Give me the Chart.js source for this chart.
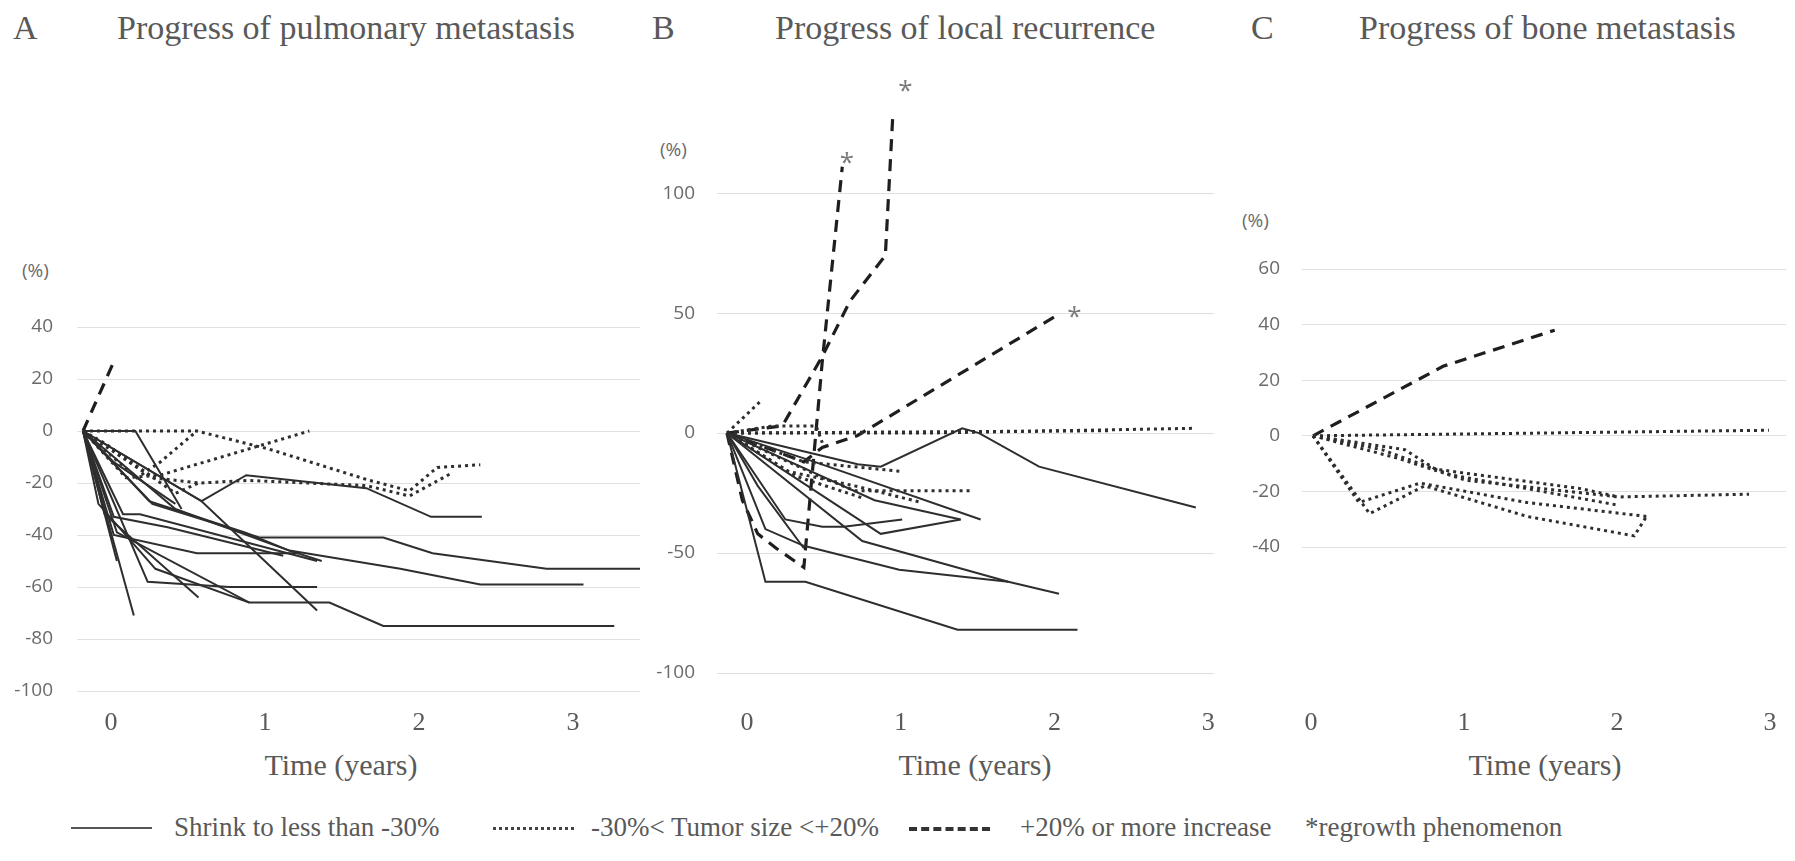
<!DOCTYPE html>
<html>
<head>
<meta charset="utf-8">
<script src="https://cdn.jsdelivr.net/npm/chart.js@4.4.1/dist/chart.umd.min.js"></script>
<style>
  body { margin: 0; width: 1795px; height: 861px; background: #fff; position: relative; overflow: hidden; color: #595959; font-family: "Liberation Serif", serif; }
  .t { position: absolute; white-space: nowrap; line-height: 1; }
  .ttl { font-size: 34px; top: 11px; }
  .pct { font-family: "Open Sans", sans-serif; font-size: 19px; color: #6a6a6a; }
  .xt { font-size: 30px; top: 750px; transform: translateX(-50%); }
  .lg { font-size: 27px; top: 814px; }
  .sw { position: absolute; top: 827px; width: 81px; height: 0; }
  canvas { position: absolute; }
</style>
</head>
<body>

<div class="t ttl" style="left:13px">A</div>
<div class="t ttl" style="left:117px">Progress of pulmonary metastasis</div>
<div class="t ttl" style="left:652px">B</div>
<div class="t ttl" style="left:775px">Progress of local recurrence</div>
<div class="t ttl" style="left:1251px">C</div>
<div class="t ttl" style="left:1359px">Progress of bone metastasis</div>

<div class="t pct" style="left:22px;top:261px">(%)</div>
<div class="t pct" style="left:660px;top:140px">(%)</div>
<div class="t pct" style="left:1242px;top:211px">(%)</div>

<canvas id="chartA" width="653" height="454" style="left:7px;top:287px"></canvas>
<canvas id="chartB" width="587" height="695" style="left:647px;top:38px"></canvas>
<canvas id="chartC" width="563" height="512" style="left:1232px;top:229px"></canvas>

<div class="t xt" style="left:341px">Time (years)</div>
<div class="t xt" style="left:975px">Time (years)</div>
<div class="t xt" style="left:1545px">Time (years)</div>

<div class="sw" style="left:71px;border-top:2px solid #555"></div>
<div class="t lg" style="left:174px">Shrink to less than -30%</div>
<div class="sw" style="left:493px;border-top:3px dotted #444"></div>
<div class="t lg" style="left:591px">-30%&lt; Tumor size &lt;+20%</div>
<div class="sw" style="left:909px;border-top:4px dashed #333"></div>
<div class="t lg" style="left:1020px">+20% or more increase</div>
<div class="t lg" style="left:1305px">*regrowth phenomenon</div>

<script>
// every series: [time in years, change in tumour size %]
var yearTicks = [0, 1, 2, 3];

// A - pulmonary metastasis
var pulmonaryTicks = [-100, -80, -60, -40, -20, 0, 20, 40];
var pulmonarySolid = [
  [[0,0],[0.33,-71]],
  [[0,0],[0.22,-50]],
  [[0,0],[0.34,0],[0.64,-30]],
  [[0,0],[0.77,-27],[1.06,-17],[1.84,-22],[2.26,-33],[2.59,-33]],
  [[0,0],[0.77,-27],[1.52,-69]],
  [[0,0],[0.42,-58],[0.95,-60],[1.52,-60]],
  [[0,0],[0.14,-32],[0.75,-64]],
  [[0,0],[0.22,-39],[1.08,-66],[1.6,-66],[1.95,-75],[3.45,-75]],
  [[0,0],[0.45,-28],[1.15,-41],[1.95,-41],[2.27,-47],[3.01,-53],[3.62,-53]],
  [[0,0],[0.43,-27],[1.05,-39],[1.34,-46],[2.06,-53],[2.58,-59],[3.25,-59]],
  [[0,0],[0.2,-40],[0.74,-47],[1.4,-47]],
  [[0,0],[0.26,-32],[0.37,-32],[1.52,-50]],
  [[0,0],[0.2,-33],[0.55,-37],[1.3,-48]],
  [[0,0],[0.1,-28],[0.47,-53],[1.08,-66]],
  [[0,0],[0.2,-12],[0.6,-28]],
  [[0,0],[0.6,-30],[1.34,-46],[1.55,-50]]
];
var pulmonaryDotted = [
  [[0,0],[0.74,0],[1.21,-7],[1.86,-19],[2.12,-23],[2.3,-14],[2.58,-13]],
  [[0,0],[0.45,-18],[0.76,-20],[1.07,-19],[1.84,-21],[2.12,-25],[2.4,-16]],
  [[0,0],[0.28,-18],[0.5,-17],[1.47,0]],
  [[0,0],[0.35,-18],[0.5,-12],[0.74,0]],
  [[0,0],[0.15,-5],[0.6,-24],[0.75,-20]]
];
var pulmonaryDashed = [
  [[0,0],[0.21,28]]
];

// B - local recurrence
var localTicks = [-100, -50, 0, 50, 100];
var localSolid = [
  [[0,0],[0.25,-62],[0.51,-62],[1.5,-82],[2.28,-82]],
  [[0,0],[0.88,-45],[1.83,-62],[2.16,-67]],
  [[0,0],[0.25,-40],[0.5,-47],[1.12,-57],[1.83,-62]],
  [[0,0],[0.38,-36],[0.62,-39],[0.76,-39],[1.14,-36]],
  [[0,0],[1.0,-42],[1.52,-36]],
  [[0,0],[0.96,-28],[1.52,-36]],
  [[0,0],[0.57,-12],[1.65,-36]],
  [[0,0],[0.85,-13],[1.0,-14],[1.53,2],[1.64,0],[2.03,-14],[3.05,-31]],
  [[0,0],[0.2,-22],[0.5,-48]]
];
var localDotted = [
  [[0,0],[2.5,1]],
  [[0,0],[1.3,0],[3.05,2]],
  [[0,0],[0.23,14]],
  [[0,0],[0.3,3],[0.58,3],[0.62,-4]],
  [[0,0],[0.5,-12],[1.14,-16]],
  [[0,0],[0.6,-18],[0.83,-24],[1.59,-24]],
  [[0,0],[0.4,-16],[0.83,-22],[1.27,-29]],
  [[0,0],[0.45,-18],[0.88,-27]]
];
var localDashed = [
  [[0,0],[0.1,-28],[0.2,-42],[0.32,-48],[0.5,-56],[0.62,30],[0.75,111]],
  [[0,0],[0.36,3],[0.62,32],[0.8,55],[1.03,74],[1.08,134]],
  [[0,0],[0.5,-12],[0.62,-6],[0.85,-1],[2.17,50]]
];
var localRegrowth = [[0.78,115],[1.16,145],[2.26,51]];

// C - bone metastasis
var boneTicks = [-40, -20, 0, 20, 40, 60];
var boneDotted = [
  [[0,0],[1.5,1],[2.98,2]],
  [[0,0],[0.37,-28],[0.73,-18],[1.4,-29],[2.1,-36],[2.18,-29]],
  [[0,0],[0.3,-24],[0.7,-17],[1.4,-24],[2.18,-29]],
  [[0,0],[0.6,-5],[0.8,-12],[1.75,-19],[2.0,-22]],
  [[0,0],[0.55,-8],[1.0,-16],[2.0,-22],[2.85,-21]],
  [[0,0],[0.45,-5],[0.9,-14],[2.0,-25]]
];
var boneDashed = [
  [[0,0],[0.85,25],[1.58,38]]
];

var solidStyle = { borderColor: "#2e2e2e", borderWidth: 2 };
var dottedStyle = { borderColor: "#2e2e2e", borderWidth: 3, borderDash: [3, 4] };
var dashedStyle = { borderColor: "#1e1e1e", borderWidth: 3.2, borderDash: [12, 8] };

function toSets(series, style) {
  return series.map(function(pts) {
    return Object.assign({
      data: pts.map(function(p) { return { x: p[0], y: p[1] }; }),
      showLine: true,
      pointRadius: 0,
      tension: 0,
      fill: false
    }, style);
  });
}

// the "*" marks next to the regrowing lesions
var regrowthMarks = {
  id: "regrowthMarks",
  afterDatasetsDraw: function(chart, args, opts) {
    if (!opts.points) return;
    var ctx = chart.ctx, sx = chart.scales.x, sy = chart.scales.y;
    ctx.save();
    ctx.font = '26px "Open Sans"';
    ctx.fillStyle = "#7a7a7a";
    ctx.textAlign = "center";
    ctx.textBaseline = "alphabetic";
    opts.points.forEach(function(p) {
      ctx.fillText("*", sx.getPixelForValue(p[0]), sy.getPixelForValue(p[1]) + 14);
    });
    ctx.restore();
  }
};

function makeChart(id, sets, ax, marks) {
  return new Chart(document.getElementById(id), {
    type: "scatter",
    data: { datasets: sets },
    plugins: [regrowthMarks],
    options: {
      responsive: false,
      animation: false,
      layout: { padding: { top: 40, right: ax.padRight, left: 0, bottom: 0 } },
      plugins: {
        legend: { display: false },
        tooltip: { enabled: false },
        regrowthMarks: { points: marks }
      },
      scales: {
        x: {
          type: "linear",
          min: ax.xMin, max: ax.xMax,
          grid: { display: false },
          border: { display: false },
          afterBuildTicks: function(s) { s.ticks = yearTicks.map(function(v) { return { value: v }; }); },
          afterFit: function(s) { s.height = ax.xH; },
          ticks: {
            autoSkip: false, maxRotation: 0,
            padding: 0, labelOffset: ax.labelOffset,
            color: "#595959",
            // tall line box pushes the year labels down to the common baseline
            font: { family: "Liberation Serif", size: 26, lineHeight: ax.xLine }
          }
        },
        y: {
          min: ax.yMin, max: ax.yMax,
          grid: { color: "#e0e0e0", lineWidth: 1, drawTicks: false },
          border: { display: false },
          afterBuildTicks: function(s) { s.ticks = ax.yTicks.map(function(v) { return { value: v }; }); },
          afterFit: function(s) { s.width = 70; },
          ticks: {
            padding: ax.yPad,
            color: "#6a6a6a",
            font: { family: "Open Sans", size: 19 }
          }
        }
      }
    }
  });
}

makeChart("chartA",
  toSets(pulmonarySolid, solidStyle).concat(toSets(pulmonaryDotted, dottedStyle), toSets(pulmonaryDashed, dashedStyle)),
  { xMin: -0.039, xMax: 3.617, yMin: -100, yMax: 40, yTicks: pulmonaryTicks,
    xH: 50, xLine: 1.85, labelOffset: 28, yPad: 24, padRight: 20 });

makeChart("chartB",
  toSets(localSolid, solidStyle).concat(toSets(localDotted, dottedStyle), toSets(localDashed, dashedStyle)),
  { xMin: -0.065, xMax: 3.168, yMin: -100, yMax: 148, yTicks: localTicks,
    xH: 60, xLine: 3.23, labelOffset: 20, yPad: 22, padRight: 20 },
  localRegrowth);

makeChart("chartC",
  toSets(boneDotted, dottedStyle).concat(toSets(boneDashed, dashedStyle)),
  { xMin: -0.072, xMax: 3.092, yMin: -40, yMax: 60, yTicks: boneTicks,
    xH: 194, xLine: 12.92, labelOffset: -2, yPad: 22, padRight: 9 });
</script>
</body>
</html>
